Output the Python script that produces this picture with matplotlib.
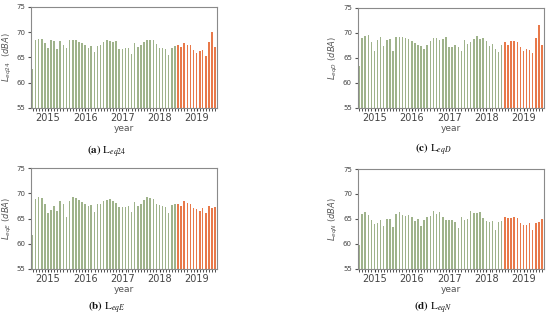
import numpy as np
import pandas as pd
import matplotlib
matplotlib.use("Agg")
import matplotlib.pyplot as plt
import matplotlib.dates as mdates

plt.rcParams['mathtext.fontset'] = 'dejavusans'

# monthly values, Jul 2014 .. Jun 2019 (month-end dates)
months = pd.date_range("2014-07-31", periods=60, freq="ME")
n_train = 47  # first 47 months green, rest red

leq24 = [62.7, 68.4, 68.6, 68.7, 67.8, 66.9, 68.4, 68.3, 66.6, 68.3, 67.5, 66.9,
         68.5, 68.5, 68.5, 68.0, 67.8, 67.5, 66.8, 67.2, 66.0, 67.2, 67.5, 68.0,
         68.4, 68.2, 68.1, 68.3, 66.6, 66.7, 66.8, 66.9, 65.6, 67.8, 67.1, 67.5,
         68.0, 68.5, 68.4, 68.4, 67.6, 66.8, 66.8, 66.6, 65.5, 66.9, 67.2,
         67.4, 67.0, 67.8, 67.5, 67.4, 66.5, 65.8, 66.2, 66.5, 65.3, 68.1, 70.0, 67.0]
leqE = [61.7, 68.8, 69.3, 69.0, 67.8, 66.1, 66.7, 67.4, 66.5, 68.4, 67.8, 65.3,
        68.4, 69.3, 69.1, 68.6, 68.2, 67.8, 67.4, 67.6, 66.3, 67.9, 67.8, 68.5,
        68.7, 68.9, 68.5, 68.0, 67.2, 67.3, 67.3, 67.5, 66.3, 68.2, 67.5, 67.8,
        68.6, 69.3, 69.0, 68.9, 67.9, 67.6, 67.5, 67.3, 66.0, 67.6, 67.8,
        67.9, 67.5, 68.4, 68.1, 67.8, 67.0, 66.8, 66.5, 67.0, 66.0, 67.4, 67.1, 67.3]
leqD = [63.3, 68.9, 69.3, 69.5, 68.1, 66.3, 68.5, 69.2, 67.4, 68.5, 68.8, 66.4,
        69.2, 69.1, 69.1, 69.0, 68.7, 68.3, 68.0, 67.5, 67.3, 66.8, 67.6, 68.3,
        68.9, 69.0, 68.6, 68.8, 69.2, 67.2, 67.2, 67.5, 67.2, 66.4, 68.5, 67.8,
        68.2, 68.7, 69.3, 68.8, 69.0, 68.4, 67.4, 67.7, 66.7, 66.2, 67.5,
        68.1, 67.5, 68.4, 68.3, 68.2, 67.1, 66.4, 66.8, 66.5, 65.9, 69.0, 71.5, 67.6]
leqN = [59.8, 66.0, 66.3, 65.8, 64.8, 63.9, 64.2, 64.8, 63.6, 65.0, 65.0, 63.3,
        66.0, 66.4, 65.8, 65.6, 65.7, 65.4, 64.5, 64.9, 63.6, 64.8, 65.4, 65.6,
        66.5, 66.0, 66.3, 65.3, 64.8, 64.8, 64.8, 64.3, 63.2, 65.4, 64.7, 65.0,
        66.5, 66.1, 66.2, 66.3, 65.2, 64.6, 64.4, 64.6, 62.8, 64.3, 64.5,
        65.3, 65.2, 65.1, 65.4, 65.1, 64.1, 63.7, 63.8, 64.2, 62.7, 64.1, 64.3, 64.9]

panels = [
    (leq24, r"$L_{eq24}\ \ (dBA)$", r"$\mathbf{(a)}\ \mathrm{L}_{eq24}$", [0.0564, 0.6646, 0.338, 0.3137], (107, 152)),
    (leqD, r"$L_{eqD}\ (dBA)$", r"$\mathbf{(c)}\ \mathrm{L}_{eqD}$", [0.650, 0.6646, 0.3388, 0.3115], (433, 150)),
    (leqE, r"$L_{eqE}\ (dBA)$", r"$\mathbf{(b)}\ \mathrm{L}_{eqE}$", [0.0564, 0.1655, 0.338, 0.3118], (107, 308)),
    (leqN, r"$L_{eqN}\ (dBA)$", r"$\mathbf{(d)}\ \mathrm{L}_{eqN}$", [0.650, 0.1655, 0.3388, 0.3096], (433, 308)),
]

fig = plt.figure(figsize=(5.5, 3.22), dpi=100)

for vals, ylab, cap, pos, cxy in panels:
    ax = fig.add_axes(pos)
    vals = np.array(vals)
    ax.bar(months[:n_train], vals[:n_train] - 55, bottom=55, width=15,
           color='#9fb38b', linewidth=0)
    ax.bar(months[n_train:], vals[n_train:] - 55, bottom=55, width=15,
           color='#e8794a', linewidth=0)
    ax.set_ylim(55, 75)
    ax.set_yticks([55, 60, 65, 70, 75])
    ax.set_xlim(months[0] - pd.Timedelta(days=14), months[-1] + pd.Timedelta(days=18))
    ax.xaxis.set_major_locator(mdates.YearLocator())
    ax.xaxis.set_major_formatter(mdates.DateFormatter('%Y'))
    ax.xaxis.set_minor_locator(mdates.MonthLocator())
    ax.tick_params(axis='x', which='major', labelsize=7, length=2, pad=1.5,
                   colors='#333333', labelcolor='#444444')
    ax.tick_params(axis='x', which='minor', length=2, color='#333333')
    ax.tick_params(axis='y', labelsize=5, length=2, pad=2, color='#555555',
                   labelcolor='#444444')
    for s in ax.spines.values():
        s.set_color('#8a8a8a')
        s.set_linewidth(0.8)
    ax.set_xlabel("year", fontsize=6.5, color='#555555', labelpad=1)
    ax.set_ylabel(ylab, fontsize=6, color='#555555', labelpad=2)
    fig.text(cxy[0] / 550, 1 - cxy[1] / 322, cap, ha='center', va='center',
             fontsize=8, color='#111111', math_fontfamily='stix')

plt.savefig("out.png", dpi=100)
